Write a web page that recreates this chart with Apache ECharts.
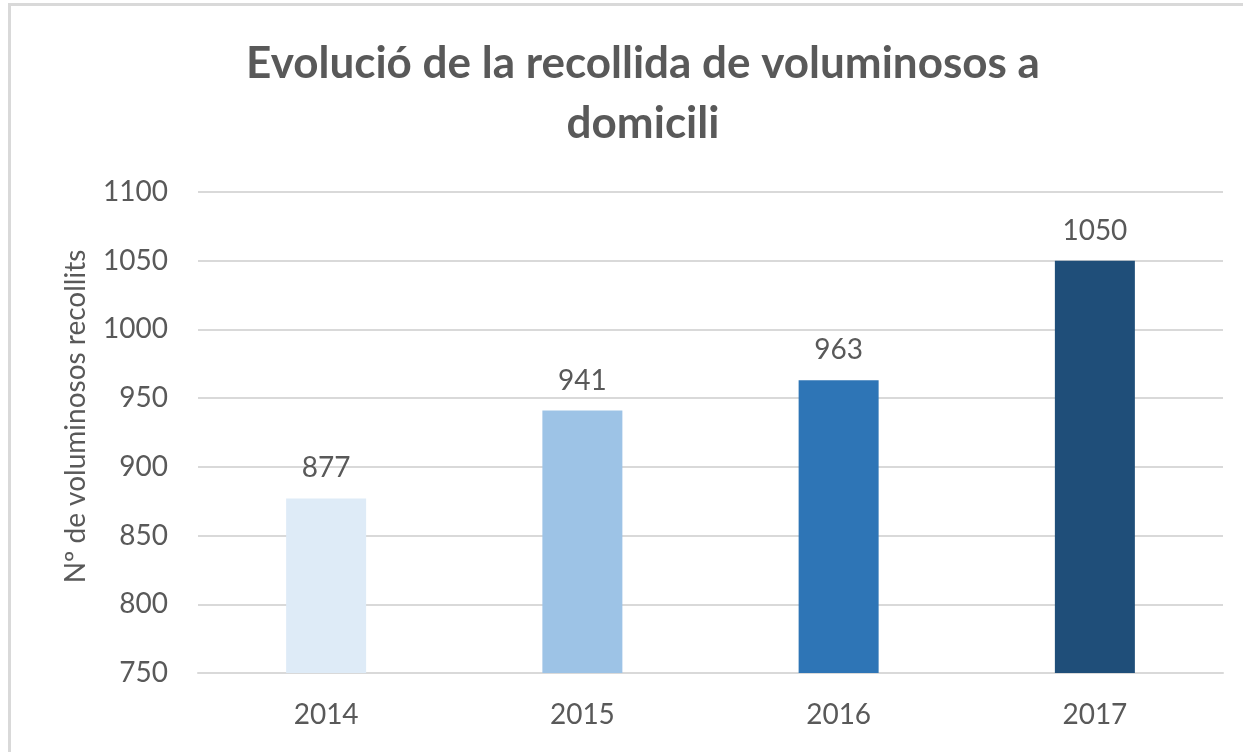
<!DOCTYPE html>
<html>
<head>
<meta charset="utf-8">
<script src="https://cdn.jsdelivr.net/npm/echarts@6/dist/echarts.min.js"></script>
<style>
  html, body { margin: 0; padding: 0; background: #fff; overflow: hidden; }
  #frame { position: absolute; left: 8px; top: 3px; width: 1300px; height: 800px;
           border-left: 3px solid #d9d9d9; border-top: 3px solid #d9d9d9; }
  #chart { position: absolute; left: 0; top: 0; width: 1243px; height: 752px; }
</style>
</head>
<body>
<div id="frame"></div>
<div id="chart"></div>
<script>
  // data
  const years = ['2014', '2015', '2016', '2017'];
  const values = [877, 941, 963, 1050];
  const barColors = ['#deebf7', '#9dc3e6', '#2e75b6', '#1f4e79'];

  const chart = echarts.init(document.getElementById('chart'));
  const textColor = '#595959';
  const font = 'Lato, "Open Sans", sans-serif';

  chart.setOption({
    animation: false,
    title: {
      text: 'Evolució de la recollida de voluminosos a\ndomicili',
      left: 638,
      textAlign: 'center',
      top: 29,
      textStyle: {
        fontFamily: font,
        fontWeight: 'bold',
        fontSize: 44,
        lineHeight: 60,
        color: textColor
      }
    },
    grid: {
      left: 198,
      right: 20,
      top: 192,
      bottom: 79,
      containLabel: false
    },
    xAxis: {
      type: 'category',
      data: years,
      axisLine: { lineStyle: { color: '#d9d9d9', width: 2 } },
      axisTick: { show: false },
      axisLabel: {
        color: textColor,
        fontFamily: font,
        fontSize: 28,
        margin: 28
      }
    },
    yAxis: {
      type: 'value',
      min: 750,
      max: 1100,
      interval: 50,
      name: 'Nº de voluminosos recollits',
      nameLocation: 'middle',
      nameGap: 108,
      nameRotate: 90,
      nameTextStyle: {
        color: textColor,
        fontFamily: font,
        fontSize: 28,
        padding: [0, 0, 0, 32]
      },
      axisLine: { show: false },
      axisTick: { show: false },
      axisLabel: {
        color: textColor,
        fontFamily: font,
        fontSize: 28,
        margin: 30,
        formatter: v => String(v)
      },
      splitLine: { lineStyle: { color: '#d9d9d9', width: 2 } }
    },
    series: [{
      type: 'bar',
      barWidth: 80,
      data: values.map((v, i) => ({ value: v, itemStyle: { color: barColors[i] } })),
      label: {
        show: true,
        position: 'top',
        distance: 16,
        color: textColor,
        fontFamily: font,
        fontSize: 28
      }
    }]
  });
</script>
</body>
</html>
